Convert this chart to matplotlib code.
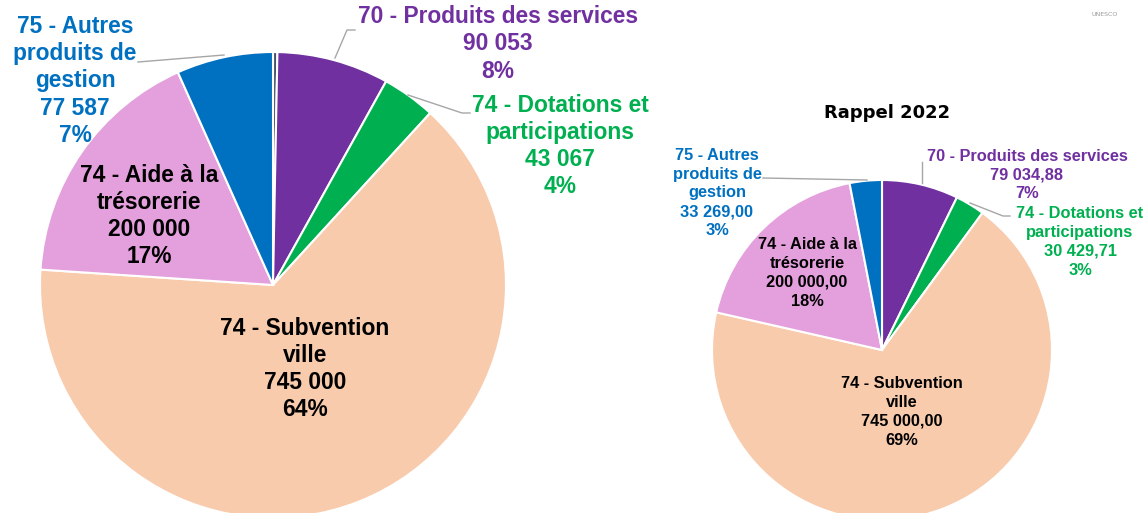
import matplotlib.pyplot as plt

W, H = 1147, 513

# 2023 budget (left pie), clockwise from 12 o'clock
cats_2023 = ["", "70 - Produits des services", "74 - Dotations et\nparticipations",
             "74 - Subvention\nville", "74 - Aide à la\ntrésorerie",
             "75 - Autres\nproduits de\ngestion"]
values_2023 = [3500, 90053, 43067, 745000, 200000, 77587]
pct_2023 = ["", "8%", "4%", "64%", "17%", "7%"]

# 2022 reminder (right pie)
cats_2022 = ["70 - Produits des services", "74 - Dotations et\nparticipations",
             "74 - Subvention\nville", "74 - Aide à la\ntrésorerie",
             "75 - Autres\nproduits de\ngestion"]
values_2022 = [79034.88, 30429.71, 745000.00, 200000.00, 33269.00]
pct_2022 = ["7%", "3%", "69%", "18%", "3%"]

slice_colors_2023 = ["#44546A", "#7030A0", "#00B050", "#F8CBAD", "#E3A0DD", "#0070C0"]
slice_colors_2022 = ["#7030A0", "#00B050", "#F8CBAD", "#E3A0DD", "#0070C0"]
text_colors_2023 = [None, "#7030A0", "#00B050", "black", "black", "#0070C0"]
text_colors_2022 = ["#7030A0", "#00B050", "black", "black", "#0070C0"]

# label centres in pixels (x, y from top)
label_pos_2023 = [None, (498, 44), (560, 146), (305, 369), (149, 216), (75, 81)]
label_pos_2022 = [(1027, 175), (1080, 242), (902, 412), (807, 273), (717, 193)]

LEADER = "#A6A6A6"
FONT = "Liberation Sans"


def Y(y):
    return H - y


def fmt_int(v):
    return f"{v:,.0f}".replace(",", " ")


def fmt_dec(v):
    return f"{v:,.2f}".replace(",", " ").replace(".", ",")


def draw_pie(ax, values, colors, center, radius):
    ax.pie(
        values,
        colors=colors,
        startangle=90,
        counterclock=False,
        center=(center[0], Y(center[1])),
        radius=radius,
        wedgeprops={"edgecolor": "white", "linewidth": 1.5},
    )


def draw_labels(ax, cats, values, pcts, tcolors, positions, fmt, size, spacing):
    for cat, val, pct, col, pos in zip(cats, values, pcts, tcolors, positions):
        if pos is None:
            continue
        ax.text(
            pos[0], Y(pos[1]),
            f"{cat}\n{fmt(val)}\n{pct}",
            ha="center", va="center", multialignment="center",
            color=col, fontsize=size, fontweight="bold", family=FONT,
            linespacing=spacing,
        )


def leader(ax, pts):
    ax.plot([p[0] for p in pts], [Y(p[1]) for p in pts], color=LEADER, lw=1)


def main() -> None:
    fig = plt.figure(figsize=(W / 100, H / 100), dpi=100)
    ax = fig.add_axes([0, 0, 1, 1])

    draw_pie(ax, values_2023, slice_colors_2023, (273, 285), 233)
    draw_pie(ax, values_2022, slice_colors_2022, (882, 350), 170)

    draw_labels(ax, cats_2023, values_2023, pct_2023, text_colors_2023,
                label_pos_2023, fmt_int, 16.4, 1.24)
    draw_labels(ax, cats_2022, values_2022, pct_2022, text_colors_2022,
                label_pos_2022, fmt_dec, 11.8, 1.32)

    # leader lines
    leader(ax, [(138, 62), (224, 55)])
    leader(ax, [(335, 58), (347, 30), (355, 30)])
    leader(ax, [(408, 95), (462, 113), (470, 113)])
    leader(ax, [(763, 178), (867, 180)])
    leader(ax, [(922, 162), (922, 183)])
    leader(ax, [(970, 203), (1003, 216), (1010, 216)])

    ax.text(887, Y(113), "Rappel 2022", ha="center", va="center",
            fontsize=13, fontweight="bold", family="DejaVu Sans", color="black")
    ax.text(1105, Y(14), "UNESCO", ha="center", va="center",
            fontsize=4.5, color="#9A9A9A", family="DejaVu Sans")

    ax.set_xlim(0, W)
    ax.set_ylim(0, H)
    ax.set_aspect("auto")
    ax.axis("off")

    fig.savefig("out.png", dpi=100)
    plt.close(fig)


if __name__ == "__main__":
    main()
